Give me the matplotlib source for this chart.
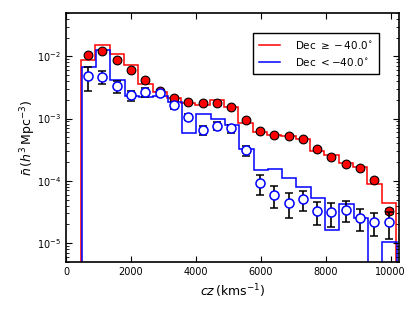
import numpy as np
import matplotlib
matplotlib.use('Agg')
import matplotlib.pyplot as plt

# bin edges in cz (km/s)
edges = np.linspace(460, 10160, 23)
centres = 0.5 * (edges[1:] + edges[:-1])

# histogram levels (step lines)
red_hist = [0.00863, 0.0150, 0.0110, 0.00718, 0.00365, 0.00268, 0.0021,
            0.00177, 0.00168, 0.00197, 0.00151, 0.00085, 0.00061, 0.000542,
            0.000523, 0.000462, 0.000303, 0.000256, 0.000195, 0.000164,
            8.9e-5, 4.45e-5]
blue_hist = [0.00675, 0.0125, 0.00423, 0.00231, 0.00223, 0.00231, 0.00185,
             0.00059, 0.00118, 0.00098, 0.00078, 0.000319, 0.000149, 0.000153,
             0.00011, 7.9e-5, 5.25e-5, 1.6e-5, 4.2e-5, 2.57e-5, 1e-9, 1.05e-5]

# measured densities with errors
red_n = [0.01064, 0.01216, 0.00885, 0.00612, 0.00412, 0.00275, 0.0021,
         0.00185, 0.00178, 0.00181, 0.00151, 0.00094, 0.00062, 0.000548,
         0.00053, 0.000468, 0.000327, 0.000243, 0.000184, 0.000158,
         0.000102, 3.28e-5]
red_err = [0.0006, 0.0006, 0.0004, 0.0003, 0.0002, 0.00012, 0.0001,
           8e-5, 7e-5, 7e-5, 6e-5, 4e-5, 2.5e-5, 2e-5, 2e-5, 1.8e-5,
           1.3e-5, 1e-5, 8e-6, 7e-6, 5e-6, 4e-6]
blue_n = [0.00478, 0.00465, 0.0033, 0.00237, 0.00265, 0.00262, 0.00164,
          0.00106, 0.000652, 0.000763, 0.000694, 0.000308, 9.1e-5, 5.98e-5,
          4.46e-5, 5.1e-5, 3.28e-5, 3.13e-5, 3.4e-5, 2.56e-5, 2.19e-5, 2.15e-5]
blue_err = [0.002, 0.0011, 0.0007, 0.00045, 0.0004, 0.0003, 0.0002,
            0.00012, 0.00011, 0.00011, 0.0001, 6e-5, 3.2e-5, 2.3e-5,
            1.9e-5, 1.85e-5, 1.35e-5, 1.3e-5, 1.25e-5, 1.0e-5, 9e-6, 1e-5]

fig = plt.figure(figsize=(4.15, 3.12), dpi=100)
ax = fig.add_axes([0.159, 0.161, 0.802, 0.798])

ax.stairs(red_hist, edges, baseline=1e-9, color='red', lw=1.1,
          label=r'Dec $\geq -40.0^{\circ}$')
ax.stairs(blue_hist, edges + 25, baseline=1e-9, color='blue', lw=1.1,
          label=r'Dec $< -40.0^{\circ}$')

ax.errorbar(centres, red_n, yerr=red_err, fmt='o', ms=6.3, mfc='red', mec='black',
            mew=0.8, ecolor='black', elinewidth=1.2, capsize=3, zorder=3)
ax.errorbar(centres, blue_n, yerr=blue_err, fmt='o', ms=6.5, mfc='white', mec='blue',
            mew=1.1, ecolor='black', elinewidth=1.2, capsize=3, zorder=4)

ax.set_yscale('log')
ax.set_xlim(0, 10250)
ax.set_ylim(5e-6, 5e-2)
ax.set_xticks([0, 2000, 4000, 6000, 8000, 10000])
ax.tick_params(which='both', direction='in', top=True, right=True, labelsize=7)
ax.tick_params(which='major', length=4)
ax.tick_params(which='minor', length=2)
for s in ax.spines.values():
    s.set_linewidth(1.2)

ax.set_xlabel(r'$cz\,({\rm kms}^{-1})$', fontsize=9)
ax.set_ylabel(r'$\bar{n}\,(h^3\,{\rm Mpc}^{-3})$', fontsize=9, labelpad=-1)

leg = ax.legend(loc='upper right', fontsize=7.5, fancybox=False, framealpha=1,
                edgecolor='black', handlelength=2, borderaxespad=1.9,
                borderpad=0.6, handletextpad=1.5)
leg.get_frame().set_linewidth(1.0)

fig.savefig('out.png', dpi=100)
